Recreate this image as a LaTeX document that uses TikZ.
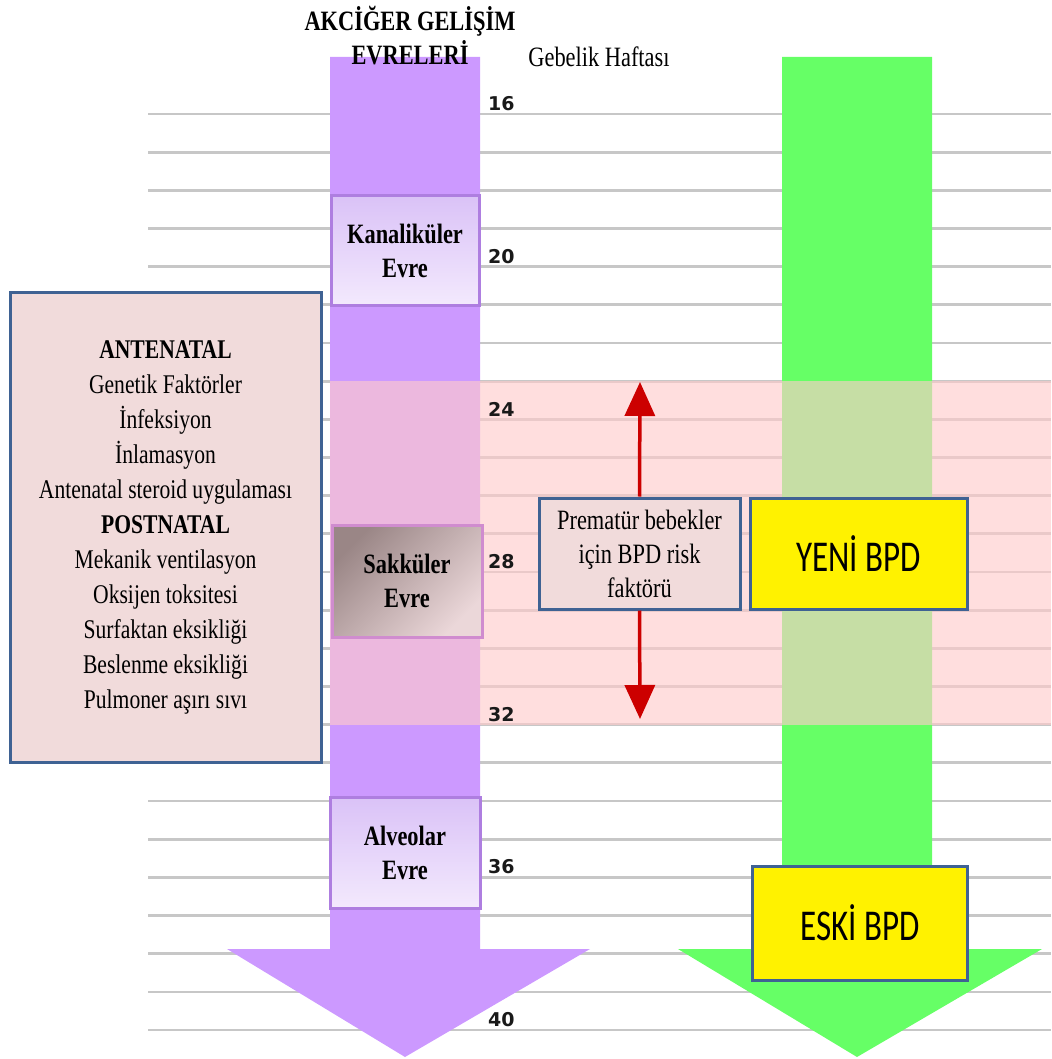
\documentclass[tikz,border=0pt]{standalone}
\usepackage{fontspec}
\setmainfont{Liberation Serif}[FakeStretch=0.8]
\newfontfamily\bpdfont{Carlito}[FakeStretch=0.75]
\newfontfamily\weekfont{DejaVu Sans}
\usetikzlibrary{arrows.meta}

\definecolor{lungpurple}{HTML}{CC99FF}
\definecolor{bpdgreen}{HTML}{66FF66}
\definecolor{bandpink}{HTML}{FFCBCB}
\definecolor{stagetop}{HTML}{DAC2F7}
\definecolor{stagebot}{HTML}{F3E9FD}
\definecolor{stageline}{HTML}{AE7EE0}
\definecolor{sacctop}{HTML}{9A8686}
\definecolor{saccbot}{HTML}{EBD7D9}
\definecolor{saccline}{HTML}{D08CCF}
\definecolor{riskfill}{HTML}{F1DBDB}
\definecolor{boxblue}{HTML}{3F6293}
\definecolor{riskred}{HTML}{CC0000}

\begin{document}
\begin{tikzpicture}[x=1pt,y=-1pt,
    gridline/.style={line width=2.8pt, draw=black!22},
    weeklabel/.style={font=\weekfont\bfseries\fontsize{19}{21}\selectfont, text=black!90, inner sep=0pt},
    stagebox/.style={draw=stageline, line width=3pt, top color=stagetop, bottom color=stagebot,
        minimum width=148pt, minimum height=109pt, inner sep=0pt, align=center,
        font=\bfseries\fontsize{28}{34}\selectfont},
    riskbox/.style={draw=boxblue, line width=3pt, fill=riskfill, inner sep=0pt, align=center,
        font=\fontsize{27}{35}\selectfont},
    bpdbox/.style={draw=boxblue, line width=3pt, fill=yellow, inner sep=0pt,
        font=\bpdfont\fontsize{44}{50}\selectfont},
    riskarrow/.style={draw=riskred, line width=3.5pt, -{Triangle[length=34pt,width=30pt]}}]

    \useasboundingbox (0,0) rectangle (1051,1059);

    % Define the week lines (one line per gestational week)
    \foreach \w in {16,...,40} {
        \coordinate (L\w) at (148,{114+(\w-16)*38.17});
        \coordinate (R\w) at (1051,{114+(\w-16)*38.17});
    }

    % Draw the week lines
    \foreach \w in {16,...,40} {
        \draw[gridline] (L\w) -- (R\w);
    }

    % Draw the two big arrows
    \fill[lungpurple] (330,57) -- (480,57) -- (480,949) -- (590,949) -- (405,1057)
        -- (227,949) -- (330,949) -- cycle;
    \fill[bpdgreen] (782,57) -- (932,57) -- (932,949) -- (1042,949) -- (857,1057)
        -- (678,949) -- (782,949) -- cycle;

    % Risk band from week 23 to week 32
    \fill[bandpink, fill opacity=0.63] (330,{114+7*38.17}) rectangle (1051,{114+16*38.17});

    % Week numbers
    \foreach \w in {16,20,...,40} {
        \node[weeklabel, anchor=south west] (wk\w) at (488,{111+(\w-16)*38.17}) {\w};
    }

    % Titles
    \node[align=center, font=\bfseries\fontsize{28}{34}\selectfont] (title) at (410,36)
        {AKCİĞER GELİŞİM\\EVRELERİ};
    \node[font=\fontsize{28}{32}\selectfont] (weektitle) at (599,57) {Gebelik Haftası};

    % Stages of lung development
    \node[stagebox] (canal) at (405,250.5) {Kanaliküler\\Evre};
    \node[stagebox, draw=saccline, top color=sacctop, bottom color=saccbot, shading angle=45,
        minimum width=150pt, minimum height=112pt] (saccular) at (407,581) {Sakküler\\Evre};
    \node[stagebox, minimum width=150pt, minimum height=111pt] (alveolar) at (405,852.5)
        {Alveolar\\Evre};

    % Risk factors
    \node[riskbox, minimum width=311pt, minimum height=470pt] (factors) at (165.5,527)
        {\textbf{ANTENATAL}\\Genetik Faktörler\\İnfeksiyon\\İnlamasyon\\
         Antenatal steroid uygulaması\\\textbf{POSTNATAL}\\Mekanik ventilasyon\\
         Oksijen toksitesi\\Surfaktan eksikliği\\Beslenme eksikliği\\Pulmoner aşırı sıvı};
    \node[riskbox, minimum width=201pt, minimum height=111pt, font=\fontsize{28}{34}\selectfont]
        (prem) at (639.5,553.5) {Prematür bebekler\\için BPD risk\\faktörü};

    % BPD types
    \node[bpdbox, minimum width=217pt, minimum height=111pt] (newbpd) at (858.5,553.5) {YENİ BPD};
    \node[bpdbox, minimum width=215pt, minimum height=114pt] (oldbpd) at (860,923) {ESKİ BPD};

    % Risk window arrows
    \coordinate (risktop) at (640,382);
    \coordinate (riskbot) at (640,719);
    \draw[riskarrow] (prem.north) -- (risktop);
    \draw[riskarrow] (prem.south) -- (riskbot);

\end{tikzpicture}
\end{document}
